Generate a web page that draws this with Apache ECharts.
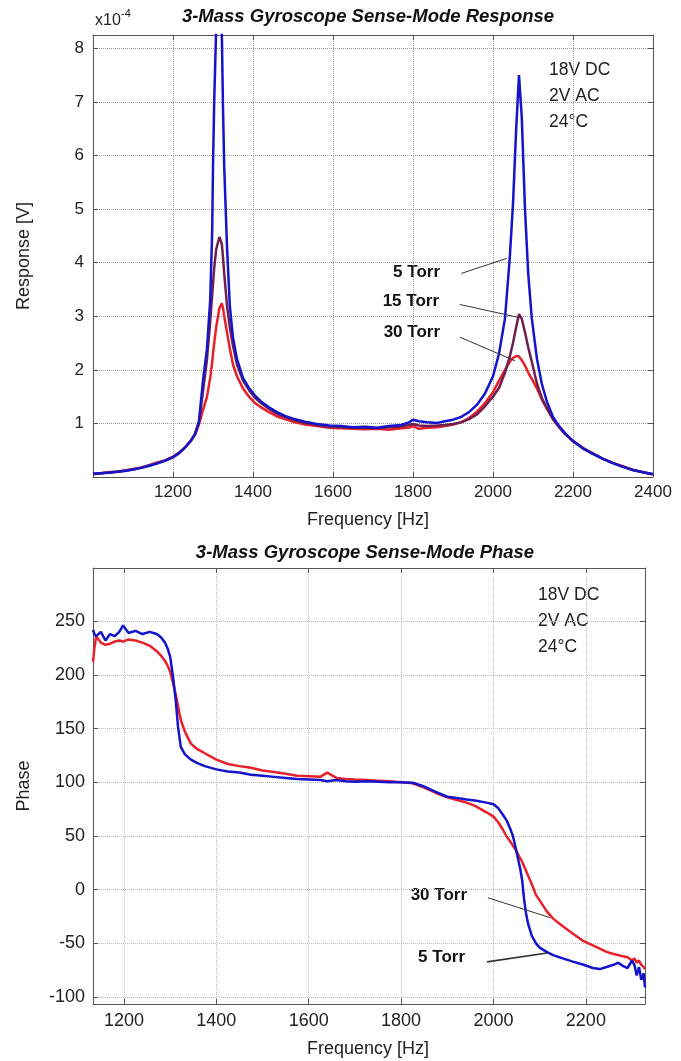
<!DOCTYPE html>
<html>
<head>
<meta charset="utf-8">
<script src="https://cdn.jsdelivr.net/npm/echarts@6/dist/echarts.min.js"></script>
<style>
  html, body { margin: 0; padding: 0; background: #fff; }
  #chart { width: 681px; height: 1061px; }
</style>
</head>
<body>
<div id="chart"></div>
<script>
// response plot, values in units of 1e-4 V
let resFreq = [
    1000, 1020, 1040, 1060, 1080, 1100, 1120, 1140, 1160, 1180,
    1200, 1215, 1230, 1245, 1255, 1265, 1275, 1285, 1293, 1298,
    1300, 1303, 1308, 1316, 1322, 1325, 1328, 1335, 1342, 1350,
    1360, 1375, 1390, 1405, 1420, 1440, 1460, 1480, 1500, 1530,
    1560, 1590, 1620, 1650, 1680, 1710, 1740, 1770, 1790, 1800,
    1815, 1835, 1860, 1880, 1900, 1920, 1940, 1960, 1980, 2000,
    2015, 2030, 2042, 2050, 2058, 2065, 2072, 2080, 2088, 2097,
    2110, 2122, 2135, 2150, 2165, 2180, 2200, 2225, 2250, 2275,
    2300, 2325, 2350, 2375, 2400
];
let res5 = [
    0.06, 0.07, 0.08, 0.10, 0.11, 0.14, 0.17, 0.21, 0.25, 0.30,
    0.37, 0.44, 0.55, 0.68, 0.80, 1.05, 1.8, 2.4, 3.3, 4.6,
    5.8, 7.0, 8.4, 12.0, 8.3, 6.9, 5.8, 4.3, 3.2, 2.6,
    2.2, 1.85, 1.66, 1.52, 1.41, 1.30, 1.21, 1.14, 1.09, 1.03,
    0.99, 0.96, 0.95, 0.93, 0.94, 0.92, 0.95, 0.97, 1.02, 1.07,
    1.04, 1.02, 1.01, 1.04, 1.07, 1.12, 1.21, 1.35, 1.56, 1.88,
    2.3, 2.96, 4.1, 5.1, 6.5, 7.5, 6.7, 5.0, 3.8, 2.96,
    2.2, 1.74, 1.4, 1.12, 0.95, 0.82, 0.67, 0.53, 0.43, 0.34,
    0.26, 0.19, 0.13, 0.09, 0.05
];
let res15 = [
    0.06, 0.07, 0.09, 0.10, 0.12, 0.14, 0.17, 0.21, 0.26, 0.31,
    0.37, 0.45, 0.55, 0.68, 0.80, 1.02, 1.6, 2.2, 2.9, 3.4,
    3.6, 3.9, 4.25, 4.48, 4.35, 4.1, 3.8, 3.2, 2.8, 2.45,
    2.1, 1.8, 1.62, 1.48, 1.38, 1.27, 1.18, 1.12, 1.07, 1.01,
    0.97, 0.94, 0.93, 0.92, 0.92, 0.91, 0.93, 0.94, 0.97, 0.99,
    0.96, 0.95, 0.96, 0.97, 0.99, 1.02, 1.08, 1.17, 1.32, 1.5,
    1.66, 1.95, 2.25, 2.5, 2.8, 3.04, 2.95, 2.7, 2.42, 2.15,
    1.74, 1.48, 1.28, 1.08, 0.94, 0.81, 0.67, 0.54, 0.43, 0.34,
    0.26, 0.19, 0.13, 0.09, 0.05
];
let res30 = [
    0.05, 0.07, 0.09, 0.10, 0.12, 0.15, 0.18, 0.22, 0.27, 0.31,
    0.38, 0.45, 0.55, 0.68, 0.79, 0.98, 1.25, 1.5, 1.85, 2.15,
    2.3, 2.5, 2.8, 3.15, 3.24, 3.15, 3.0, 2.7, 2.4, 2.1,
    1.88, 1.65, 1.5, 1.38, 1.3, 1.21, 1.13, 1.08, 1.03, 0.98,
    0.95, 0.92, 0.91, 0.9, 0.89, 0.9, 0.88, 0.91, 0.92, 0.95,
    0.9, 0.92, 0.93, 0.95, 0.98, 1.02, 1.1, 1.22, 1.38, 1.58,
    1.8, 2.0, 2.15, 2.22, 2.26, 2.25, 2.18, 2.08, 1.95, 1.83,
    1.65, 1.45, 1.27, 1.08, 0.93, 0.8, 0.67, 0.54, 0.44, 0.34,
    0.26, 0.2, 0.13, 0.09, 0.05
];

// phase plot
let phaseFreq = [
    1133, 1136, 1140, 1150, 1160, 1170, 1180, 1190, 1198, 1210,
    1225, 1240, 1256, 1271, 1280, 1289, 1295, 1300, 1306, 1312,
    1317, 1323, 1332, 1345, 1358, 1375, 1400, 1425, 1450, 1475,
    1500, 1525, 1550, 1575, 1600, 1625, 1640, 1660, 1680, 1700,
    1725, 1750, 1775, 1800, 1825, 1850, 1875, 1900, 1925, 1942,
    1960, 1985, 2000, 2010, 2020, 2029, 2036, 2042, 2048, 2053,
    2058, 2062, 2066, 2070, 2075, 2083, 2092, 2100, 2115, 2129,
    2150, 2172, 2195, 2215, 2230, 2245, 2260, 2270, 2280, 2290,
    2300, 2305, 2310, 2315, 2320, 2325, 2328
];
let phase5 = [
    242, 238, 236, 240, 232, 238, 236, 240, 246, 239,
    241, 238, 240, 238, 235, 230, 224, 217, 199, 177,
    152, 133, 126, 121, 118, 115, 112, 110, 109, 107,
    106, 105, 104, 103, 102.5, 102, 101, 102, 101, 100.5,
    101, 100.5, 100, 100, 99.5, 96, 91, 86.5, 85, 84,
    83, 81, 79.5, 76, 70, 64, 57, 50, 39, 29,
    19, 9, -8, -21, -32, -43, -50, -54, -58, -61,
    -64, -67, -70, -73, -74, -72, -70, -68, -71, -73,
    -66, -70, -80, -72, -84, -78, -91
];
let phase30 = [
    212, 225, 236, 230, 228, 229, 231, 232, 231, 233,
    232, 230, 227, 222, 218, 213, 208, 203, 193, 182,
    171, 158, 147, 136, 131, 127, 121, 117, 115, 113.5,
    111, 109.5, 108, 106, 105.5, 105, 109, 104, 103, 102.5,
    102, 101.5, 101, 100, 99, 95, 90, 86, 83, 81,
    78, 72, 68, 63, 56, 49, 45, 41, 37, 33,
    29, 26, 22, 18, 13, 5, -5, -10, -20, -27,
    -34, -41, -48, -52, -55, -58, -60, -61, -62, -63,
    -66, -64, -68, -66, -70, -72, -74
];

function pairs(xs, ys) {
    return xs.map((x, i) => [x, ys[i]]);
}

let FONT = "'Liberation Sans', Arial, sans-serif";
let BLUE = '#1414cc';
let RED = '#e8202a';
let PURPLE = '#6e1f4f';
let AXIS_COLOR = '#555';

function mainX(grid, extra) {
    return Object.assign({
        type: 'value',
        gridIndex: grid,
        axisLine: { show: true, onZero: false, lineStyle: { color: AXIS_COLOR, width: 1 } },
        axisTick: { show: true, inside: true, length: 5, lineStyle: { color: AXIS_COLOR } },
        axisLabel: { color: '#222', fontFamily: FONT, fontSize: 17 },
        splitLine: { show: true, lineStyle: { type: 'dotted', color: '#9a9a9a', width: 1 } }
    }, extra);
}

function mirror(grid, position, extra) {
    return Object.assign({
        type: 'value',
        gridIndex: grid,
        position: position,
        axisLine: { show: true, onZero: false, lineStyle: { color: AXIS_COLOR, width: 1 } },
        axisTick: { show: true, inside: true, length: 5, lineStyle: { color: AXIS_COLOR } },
        axisLabel: { show: false },
        splitLine: { show: false }
    }, extra);
}

function leader(a, b) {
    return [{ coord: a }, { coord: b }];
}

let xTop = { min: 1000, max: 2400, interval: 200 };
let yTop = { min: 0, max: 8.25, interval: 1 };
let xBot = { min: 1133, max: 2328, splitNumber: 6, minInterval: 200, maxInterval: 200 };
let yBot = { min: -106.5, max: 299.5, splitNumber: 8, minInterval: 50, maxInterval: 50 };

let option = {
    animation: false,
    backgroundColor: '#fff',
    grid: [
        { left: 93, top: 35, width: 560, height: 442 },
        { left: 93, top: 568, width: 552, height: 436 }
    ],
    xAxis: [
        mainX(0, Object.assign({}, xTop, {
            axisLabel: { color: '#222', fontFamily: FONT, fontSize: 17, margin: 7,
                formatter: v => (v > 1000 ? String(v) : '') }
        })),
        mirror(0, 'top', xTop),
        mainX(1, Object.assign({}, xBot, {
            axisLabel: { color: '#222', fontFamily: FONT, fontSize: 18, margin: 8,
                formatter: v => (v % 200 === 0 ? String(v) : '') },
            splitLine: { show: true, lineStyle: { type: 'dotted', color: '#bdbdbd', width: 1 } }
        })),
        mirror(1, 'top', xBot)
    ],
    yAxis: [
        mainX(0, Object.assign({}, yTop, {
            axisLabel: { color: '#222', fontFamily: FONT, fontSize: 17, margin: 9,
                formatter: v => (Number.isInteger(v) && v > 0 ? String(v) : '') }
        })),
        mirror(0, 'right', yTop),
        mainX(1, Object.assign({}, yBot, {
            axisLabel: { color: '#222', fontFamily: FONT, fontSize: 18, margin: 8,
                formatter: v => (v % 50 === 0 ? String(v) : '') },
            splitLine: { show: true, lineStyle: { type: 'dotted', color: '#bdbdbd', width: 1 } }
        })),
        mirror(1, 'right', yBot)
    ],
    series: [
        {
            name: '30 Torr', type: 'line', xAxisIndex: 0, yAxisIndex: 0,
            data: pairs(resFreq, res30), showSymbol: false, symbol: 'none',
            lineStyle: { color: RED, width: 2.5 }, itemStyle: { color: RED }
        },
        {
            name: '15 Torr', type: 'line', xAxisIndex: 0, yAxisIndex: 0,
            data: pairs(resFreq, res15), showSymbol: false, symbol: 'none',
            lineStyle: { color: PURPLE, width: 2.5 }, itemStyle: { color: PURPLE }
        },
        {
            name: '5 Torr', type: 'line', xAxisIndex: 0, yAxisIndex: 0,
            data: pairs(resFreq, res5), showSymbol: false, symbol: 'none',
            lineStyle: { color: BLUE, width: 2.5 }, itemStyle: { color: BLUE },
            markLine: {
                silent: true, symbol: ['none', 'none'], label: { show: false },
                lineStyle: { color: '#333', width: 1, type: 'solid' },
                data: [
                    leader([1921, 3.80], [2034, 4.08]),
                    leader([1917, 3.22], [2063, 2.98]),
                    leader([1917, 2.61], [2055, 2.17])
                ]
            }
        },
        {
            name: '30 Torr phase', type: 'line', xAxisIndex: 2, yAxisIndex: 2,
            data: pairs(phaseFreq, phase30), showSymbol: false, symbol: 'none',
            lineStyle: { color: RED, width: 2.5 }, itemStyle: { color: RED }
        },
        {
            name: '5 Torr phase', type: 'line', xAxisIndex: 2, yAxisIndex: 2,
            data: pairs(phaseFreq, phase5), showSymbol: false, symbol: 'none',
            lineStyle: { color: BLUE, width: 2.5 }, itemStyle: { color: BLUE },
            markLine: {
                silent: true, symbol: ['none', 'none'], label: { show: false },
                lineStyle: { color: '#333', width: 1, type: 'solid' },
                data: [
                    leader([1988, -7.6], [2122, -26]),
                    [{ coord: [1986, -67.3], lineStyle: { width: 1.6 } }, { coord: [2116, -59] }]
                ]
            }
        }
    ],
    graphic: [
        // titles
        { type: 'text', x: 368, y: 17, style: { text: '3-Mass Gyroscope Sense-Mode Response', fill: '#111',
            font: 'italic bold 18.5px ' + FONT, textAlign: 'center', textVerticalAlign: 'middle' } },
        { type: 'text', x: 365, y: 553, style: { text: '3-Mass Gyroscope Sense-Mode Phase', fill: '#111',
            font: 'italic bold 18.5px ' + FONT, textAlign: 'center', textVerticalAlign: 'middle' } },
        // exponent
        { type: 'text', x: 95, y: 21, style: { text: 'x10', fill: '#222', font: '16px ' + FONT,
            textAlign: 'left', textVerticalAlign: 'middle' } },
        { type: 'text', x: 121, y: 14, style: { text: '-4', fill: '#222', font: '11px ' + FONT,
            textAlign: 'left', textVerticalAlign: 'middle' } },
        // axis names
        { type: 'text', x: 24, y: 256, rotation: Math.PI / 2, style: { text: 'Response [V]', fill: '#222',
            font: '18px ' + FONT, textAlign: 'center', textVerticalAlign: 'middle' } },
        { type: 'text', x: 368, y: 520, style: { text: 'Frequency [Hz]', fill: '#222',
            font: '18px ' + FONT, textAlign: 'center', textVerticalAlign: 'middle' } },
        { type: 'text', x: 24, y: 786, rotation: Math.PI / 2, style: { text: 'Phase', fill: '#222',
            font: '18px ' + FONT, textAlign: 'center', textVerticalAlign: 'middle' } },
        { type: 'text', x: 368, y: 1049, style: { text: 'Frequency [Hz]', fill: '#222',
            font: '18px ' + FONT, textAlign: 'center', textVerticalAlign: 'middle' } },
        // conditions
        { type: 'text', x: 549, y: 70, style: { text: '18V DC', fill: '#222', font: '17.5px ' + FONT, textVerticalAlign: 'middle' } },
        { type: 'text', x: 549, y: 96, style: { text: '2V AC', fill: '#222', font: '17.5px ' + FONT, textVerticalAlign: 'middle' } },
        { type: 'text', x: 549, y: 122, style: { text: '24°C', fill: '#222', font: '17.5px ' + FONT, textVerticalAlign: 'middle' } },
        { type: 'text', x: 538, y: 595, style: { text: '18V DC', fill: '#222', font: '17.5px ' + FONT, textVerticalAlign: 'middle' } },
        { type: 'text', x: 538, y: 621, style: { text: '2V AC', fill: '#222', font: '17.5px ' + FONT, textVerticalAlign: 'middle' } },
        { type: 'text', x: 538, y: 647, style: { text: '24°C', fill: '#222', font: '17.5px ' + FONT, textVerticalAlign: 'middle' } },
        // pressure labels
        { type: 'text', x: 440, y: 272, style: { text: '5 Torr', fill: '#111', font: 'bold 17px ' + FONT, textAlign: 'right', textVerticalAlign: 'middle' } },
        { type: 'text', x: 439, y: 301, style: { text: '15 Torr', fill: '#111', font: 'bold 17px ' + FONT, textAlign: 'right', textVerticalAlign: 'middle' } },
        { type: 'text', x: 440, y: 332, style: { text: '30 Torr', fill: '#111', font: 'bold 17px ' + FONT, textAlign: 'right', textVerticalAlign: 'middle' } },
        { type: 'text', x: 467, y: 895, style: { text: '30 Torr', fill: '#111', font: 'bold 17px ' + FONT, textAlign: 'right', textVerticalAlign: 'middle' } },
        { type: 'text', x: 465, y: 957, style: { text: '5 Torr', fill: '#111', font: 'bold 17px ' + FONT, textAlign: 'right', textVerticalAlign: 'middle' } }
    ]
};

let chart = echarts.init(document.getElementById('chart'));
chart.setOption(option);
</script>
</body>
</html>
